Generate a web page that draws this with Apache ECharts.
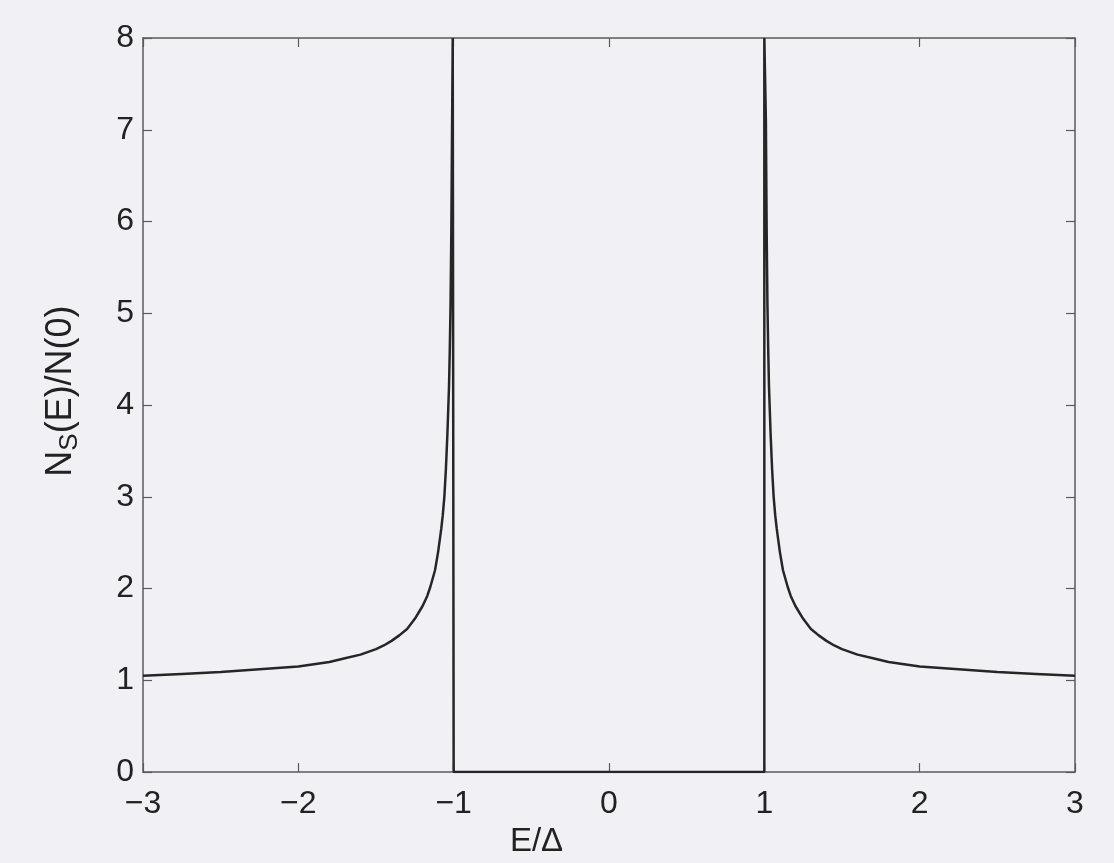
<!DOCTYPE html>
<html>
<head>
<meta charset="utf-8">
<script src="https://cdn.jsdelivr.net/npm/echarts@6/dist/echarts.min.js"></script>
<style>
  html, body { margin: 0; padding: 0; background: #f1f0f5; }
  #chart { width: 1114px; height: 863px; }
</style>
</head>
<body>
<div id="chart"></div>
<script>
// left branch, E/Δ < -1
const leftE = [-3, -2.75, -2.5, -2.25, -2, -1.8, -1.7, -1.6, -1.5, -1.45, -1.4, -1.35, -1.3, -1.25, -1.2, -1.17, -1.15, -1.12, -1.1, -1.08, -1.07, -1.06, -1.05, -1.04, -1.03, -1.025, -1.02, -1.015, -1.01, -1.006]
const leftN = [1.05, 1.07, 1.09, 1.12, 1.15, 1.2, 1.24, 1.28, 1.34, 1.38, 1.43, 1.49, 1.56, 1.67, 1.81, 1.92, 2.02, 2.2, 2.4, 2.65, 2.8, 3.0, 3.3, 3.7, 4.2, 4.6, 5.1, 5.9, 7.1, 8]
// gap, -1 .. 1
const gapE = [-1, -1, 1, 1]
const gapN = [8, 0, 0, 8]
// right branch, E/Δ > 1
const rightE = [1.006, 1.01, 1.015, 1.02, 1.025, 1.03, 1.04, 1.05, 1.06, 1.07, 1.08, 1.1, 1.12, 1.15, 1.17, 1.2, 1.25, 1.3, 1.35, 1.4, 1.45, 1.5, 1.6, 1.7, 1.8, 2, 2.25, 2.5, 2.75, 3]
const rightN = [8, 7.1, 5.9, 5.1, 4.6, 4.2, 3.7, 3.3, 3.0, 2.8, 2.65, 2.4, 2.2, 2.02, 1.92, 1.81, 1.67, 1.56, 1.49, 1.43, 1.38, 1.34, 1.28, 1.24, 1.2, 1.15, 1.12, 1.09, 1.07, 1.05]

const xTicks = [-3, -2, -1, 0, 1, 2, 3]
const yTicks = [0, 1, 2, 3, 4, 5, 6, 7, 8]

const allE = leftE.concat(gapE, rightE)
const allN = leftN.concat(gapN, rightN)
const points = allE.map((e, i) => [e, allN[i]])

const axisColor = '#5a5a5a'
const textColor = '#222'
const font = 'Liberation Sans, Arial, sans-serif'

const fmt = v => (v < 0 ? '\u2212' + Math.abs(v) : String(v))

const xBase = {
  type: 'value',
  min: xTicks[0],
  max: xTicks[xTicks.length - 1],
  interval: 1,
  splitLine: { show: false },
  axisLine: { show: true, onZero: false, lineStyle: { color: axisColor, width: 1.5 } },
  axisTick: { show: true, inside: true, length: 9, lineStyle: { color: axisColor, width: 1.2 } }
}
const yBase = {
  type: 'value',
  min: yTicks[0],
  max: yTicks[yTicks.length - 1],
  interval: 1,
  splitLine: { show: false },
  axisLine: { show: true, onZero: false, lineStyle: { color: axisColor, width: 1.5 } },
  axisTick: { show: true, inside: true, length: 9, lineStyle: { color: axisColor, width: 1.2 } }
}

const chart = echarts.init(document.getElementById('chart'))
chart.setOption({
  backgroundColor: '#f1f0f5',
  animation: false,
  grid: { left: 143, right: 39, top: 38, bottom: 84 },
  xAxis: [
    Object.assign({}, xBase, {
      position: 'bottom',
      name: 'E/\u0394',
      nameLocation: 'middle',
      nameGap: 48,
      nameTextStyle: { color: textColor, fontFamily: font, fontSize: 33, padding: [0, 145, 0, 0] },
      axisLabel: { color: textColor, fontFamily: font, fontSize: 32, margin: 16, formatter: fmt }
    }),
    Object.assign({}, xBase, { position: 'top', axisLabel: { show: false } })
  ],
  yAxis: [
    Object.assign({}, yBase, {
      position: 'left',
      name: '{a|N}{s|S}{a|(E)/N(0)}',
      nameLocation: 'middle',
      nameGap: 60,
      nameTextStyle: {
        color: textColor,
        fontFamily: font,
        padding: [0, 0, 0, 28],
        rich: {
          a: { fontSize: 36, color: textColor, fontFamily: font, lineHeight: 44 },
          s: { fontSize: 26, color: textColor, fontFamily: font, verticalAlign: 'bottom', lineHeight: 44 }
        }
      },
      axisLabel: { color: textColor, fontFamily: font, fontSize: 32, margin: 9, formatter: fmt }
    }),
    Object.assign({}, yBase, { position: 'right', axisLabel: { show: false } })
  ],
  series: [{
    type: 'line',
    data: points,
    showSymbol: false,
    clip: true,
    lineStyle: { color: '#262626', width: 2.5 }
  }]
})
</script>
</body>
</html>
